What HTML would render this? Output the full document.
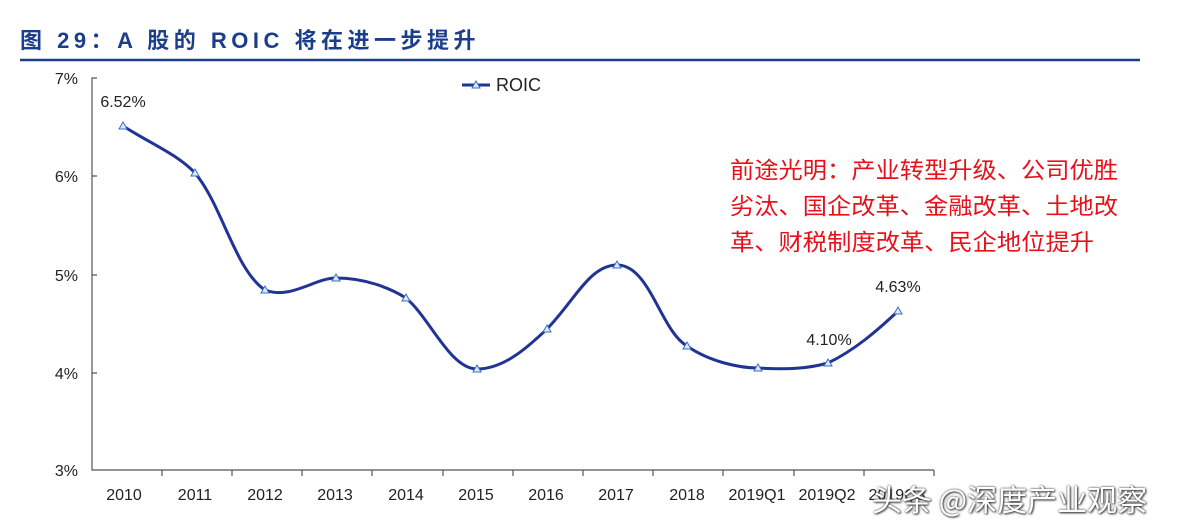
<!DOCTYPE html>
<html><head><meta charset="utf-8"><style>
body{margin:0;width:1190px;height:522px;background:#fff;overflow:hidden;position:relative;font-family:"Liberation Sans","Noto Sans CJK SC",sans-serif}
.t{position:absolute;left:20px;top:23px;font-size:22px;font-weight:bold;color:#1a3d8c;letter-spacing:4.5px}
.wm{position:absolute;left:872px;top:476px;font-size:30px;color:#fff;text-shadow:0 0 2px #333,1px 1px 2px #333;font-family:"Noto Sans CJK SC",sans-serif}
</style></head><body>
<div class="t">图 29：A 股的 ROIC 将在进一步提升</div>
<svg width="1190" height="522" style="position:absolute;left:0;top:0" font-family="Liberation Sans, sans-serif">
<line x1="20" y1="60" x2="1140" y2="60" stroke="#1a3d8c" stroke-width="2.5"/>
<g stroke="#555" stroke-width="1.2" fill="none">
<path d="M97 78H92V470H934"/>
<path d="M92 176H97M92 275H97M92 373H97"/>
<path d="M162 470V476M232 470V476M302 470V476M372 470V476M443 470V476M513 470V476M583 470V476M653 470V476M723 470V476M794 470V476M864 470V476M934 470V476"/>
</g>
<g font-size="16" fill="#222" text-anchor="end">
<text x="78" y="84">7%</text><text x="78" y="182">6%</text><text x="78" y="281">5%</text><text x="78" y="379">4%</text><text x="78" y="476">3%</text>
</g>
<g font-size="16" fill="#222" text-anchor="middle">
<text x="124" y="500">2010</text><text x="195" y="500">2011</text><text x="265" y="500">2012</text><text x="335" y="500">2013</text><text x="406" y="500">2014</text><text x="476" y="500">2015</text><text x="546" y="500">2016</text><text x="616" y="500">2017</text><text x="687" y="500">2018</text><text x="757" y="500">2019Q1</text><text x="827" y="500">2019Q2</text><text x="897" y="500">2019Q3</text>
</g>
<path d="M123 126C155 146 178 155 195 173C222 205 235 270 265 290C290 300 315 278 336 278C365 278 390 288 406 298C430 318 450 369 477 369C505 369 530 345 547 329C575 300 590 265 617 265C650 265 660 330 687 346C710 362 740 368 758 368C790 370 810 368 828 363C855 350 878 330 898 311" fill="none" stroke="#1f3494" stroke-width="3"/>
<g fill="#dde8f8" stroke="#3a6fc4" stroke-width="1">
<path d="M123 122l4 7h-8z"/><path d="M195 169l4 7h-8z"/><path d="M265 286l4 7h-8z"/><path d="M336 274l4 7h-8z"/><path d="M406 294l4 7h-8z"/><path d="M477 365l4 7h-8z"/><path d="M547 325l4 7h-8z"/><path d="M617 261l4 7h-8z"/><path d="M687 342l4 7h-8z"/><path d="M758 364l4 7h-8z"/><path d="M828 359l4 7h-8z"/><path d="M898 307l4 7h-8z"/>
</g>
<g font-size="16" fill="#222" text-anchor="middle">
<text x="123" y="107">6.52%</text><text x="829" y="345">4.10%</text><text x="898" y="292">4.63%</text>
</g>
<line x1="462" y1="85" x2="490" y2="85" stroke="#1f3494" stroke-width="3"/>
<path d="M476 81l4 7h-8z" fill="#dde8f8" stroke="#3a6fc4"/>
<text x="496" y="91" font-size="18" fill="#222">ROIC</text>
<g font-size="23" fill="#e8101a" font-family="Liberation Sans, Noto Sans CJK SC, sans-serif">
<text x="730" y="178" textLength="388" lengthAdjust="spacingAndGlyphs">前途光明：产业转型升级、公司优胜</text>
<text x="730" y="214" textLength="388" lengthAdjust="spacingAndGlyphs">劣汰、国企改革、金融改革、土地改</text>
<text x="730" y="250" textLength="364" lengthAdjust="spacingAndGlyphs">革、财税制度改革、民企地位提升</text>
</g>
</svg>
<div class="wm">头条 @深度产业观察</div>
</body></html>
